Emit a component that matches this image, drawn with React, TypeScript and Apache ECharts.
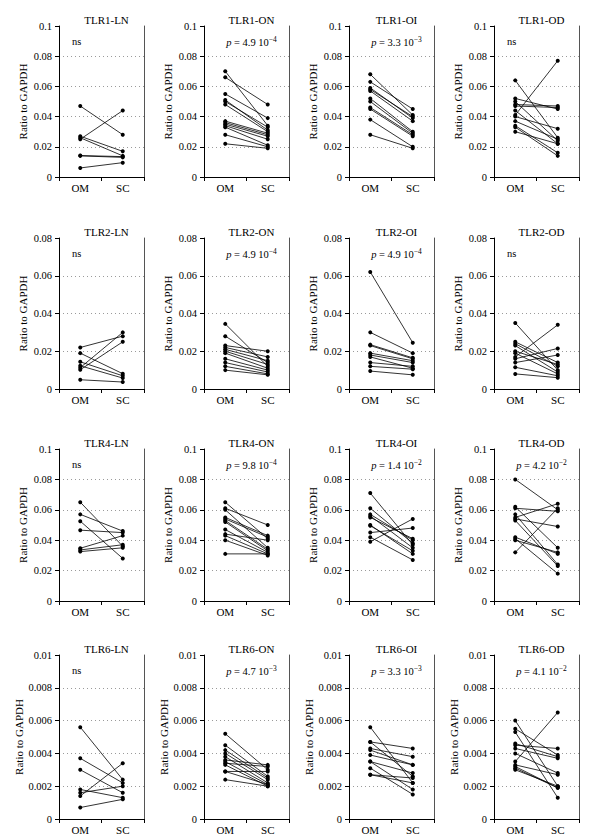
import React, { useEffect, useRef } from "react";
import * as echarts from "echarts";

const categories = ["OM", "SC"];

// Row 1 – TLR1
const tlr1LnOM = [0.047, 0.025, 0.027, 0.026, 0.014, 0.0142, 0.006];
const tlr1LnSC = [0.028, 0.044, 0.017, 0.014, 0.013, 0.0135, 0.0095];
const tlr1OnOM = [0.070, 0.066, 0.055, 0.051, 0.050, 0.048, 0.037, 0.036, 0.035, 0.034, 0.033, 0.028, 0.022];
const tlr1OnSC = [0.034, 0.048, 0.039, 0.031, 0.033, 0.030, 0.029, 0.028, 0.027, 0.025, 0.021, 0.020, 0.019];
const tlr1OiOM = [0.068, 0.063, 0.059, 0.058, 0.057, 0.052, 0.050, 0.046, 0.045, 0.038, 0.028];
const tlr1OiSC = [0.041, 0.045, 0.039, 0.040, 0.037, 0.030, 0.029, 0.028, 0.027, 0.020, 0.019];
const tlr1OdOM = [0.064, 0.052, 0.050, 0.048, 0.047, 0.044, 0.041, 0.040, 0.037, 0.034, 0.033, 0.030];
const tlr1OdSC = [0.026, 0.045, 0.024, 0.047, 0.046, 0.022, 0.077, 0.032, 0.025, 0.016, 0.014, 0.022];

// Row 2 – TLR2
const tlr2LnOM = [0.022, 0.019, 0.0144, 0.0123, 0.0113, 0.0102, 0.0049];
const tlr2LnSC = [0.028, 0.0081, 0.007, 0.0058, 0.030, 0.025, 0.0037];
const tlr2OnOM = [0.0345, 0.028, 0.023, 0.022, 0.021, 0.020, 0.019, 0.016, 0.014, 0.012, 0.010];
const tlr2OnSC = [0.012, 0.014, 0.020, 0.017, 0.015, 0.013, 0.011, 0.010, 0.009, 0.008, 0.0075];
const tlr2OiOM = [0.062, 0.030, 0.0235, 0.023, 0.019, 0.018, 0.017, 0.014, 0.012, 0.0095];
const tlr2OiSC = [0.0245, 0.019, 0.0165, 0.016, 0.015, 0.014, 0.011, 0.012, 0.0105, 0.0075];
const tlr2OdOM = [0.035, 0.025, 0.024, 0.023, 0.020, 0.019, 0.017, 0.016, 0.014, 0.0115, 0.008];
const tlr2OdSC = [0.010, 0.014, 0.012, 0.009, 0.013, 0.008, 0.034, 0.0215, 0.018, 0.007, 0.006];

// Row 3 – TLR4
const tlr4LnOM = [0.065, 0.057, 0.0525, 0.0466, 0.0347, 0.0336, 0.0325];
const tlr4LnSC = [0.036, 0.046, 0.028, 0.045, 0.043, 0.037, 0.035];
const tlr4OnOM = [0.065, 0.061, 0.060, 0.055, 0.054, 0.053, 0.052, 0.047, 0.044, 0.043, 0.040, 0.031];
const tlr4OnSC = [0.041, 0.050, 0.035, 0.043, 0.042, 0.034, 0.033, 0.032, 0.040, 0.031, 0.030, 0.031];
const tlr4OiOM = [0.071, 0.061, 0.057, 0.056, 0.055, 0.050, 0.0495, 0.045, 0.042, 0.039];
const tlr4OiSC = [0.037, 0.038, 0.040, 0.035, 0.041, 0.031, 0.033, 0.048, 0.027, 0.054];
const tlr4OdOM = [0.080, 0.062, 0.061, 0.057, 0.054, 0.053, 0.042, 0.041, 0.040, 0.032, 0.055];
const tlr4OdSC = [0.060, 0.035, 0.059, 0.024, 0.049, 0.023, 0.031, 0.018, 0.032, 0.061, 0.064];

// Row 4 – TLR6
const tlr6LnOM = [0.0056, 0.0037, 0.0030, 0.0018, 0.0016, 0.0014, 0.0007];
const tlr6LnSC = [0.0024, 0.0022, 0.0016, 0.0013, 0.0020, 0.0034, 0.0012];
const tlr6OnOM = [0.0052, 0.0045, 0.0042, 0.0040, 0.0038, 0.0036, 0.0035, 0.0034, 0.0033, 0.0029, 0.0029, 0.0024];
const tlr6OnSC = [0.0030, 0.0026, 0.0025, 0.0024, 0.0022, 0.0033, 0.0021, 0.0032, 0.0020, 0.0029, 0.0021, 0.0020];
const tlr6OiOM = [0.0056, 0.0047, 0.0047, 0.0043, 0.0042, 0.0039, 0.0035, 0.0035, 0.0031, 0.0027, 0.0027];
const tlr6OiSC = [0.0022, 0.0043, 0.0026, 0.0038, 0.0033, 0.0033, 0.0028, 0.0018, 0.0015, 0.0025, 0.0022];
const tlr6OdOM = [0.0060, 0.0055, 0.0053, 0.0046, 0.0045, 0.0043, 0.0040, 0.0035, 0.0033, 0.0032, 0.0031, 0.0030];
const tlr6OdSC = [0.0020, 0.0039, 0.0013, 0.0038, 0.0043, 0.0037, 0.0028, 0.0065, 0.0027, 0.0019, 0.0019, 0.0020];

const panelTitles = [
  "TLR1-LN", "TLR1-ON", "TLR1-OI", "TLR1-OD",
  "TLR2-LN", "TLR2-ON", "TLR2-OI", "TLR2-OD",
  "TLR4-LN", "TLR4-ON", "TLR4-OI", "TLR4-OD",
  "TLR6-LN", "TLR6-ON", "TLR6-OI", "TLR6-OD",
];
const omValues = [
  tlr1LnOM, tlr1OnOM, tlr1OiOM, tlr1OdOM,
  tlr2LnOM, tlr2OnOM, tlr2OiOM, tlr2OdOM,
  tlr4LnOM, tlr4OnOM, tlr4OiOM, tlr4OdOM,
  tlr6LnOM, tlr6OnOM, tlr6OiOM, tlr6OdOM,
];
const scValues = [
  tlr1LnSC, tlr1OnSC, tlr1OiSC, tlr1OdSC,
  tlr2LnSC, tlr2OnSC, tlr2OiSC, tlr2OdSC,
  tlr4LnSC, tlr4OnSC, tlr4OiSC, tlr4OdSC,
  tlr6LnSC, tlr6OnSC, tlr6OiSC, tlr6OdSC,
];
// p-value mantissa / exponent ("" = ns)
const pMantissa = ["", "4.9", "3.3", "", "", "4.9", "4.9", "", "", "9.8", "1.4", "4.2", "", "4.7", "3.3", "4.1"];
const pExponent = ["", "−4", "−3", "", "", "−4", "−4", "", "", "−4", "−2", "−2", "", "−3", "−3", "−2"];

const rowMax = [0.1, 0.08, 0.1, 0.01];
const rowInterval = [0.02, 0.02, 0.02, 0.002];

const FONT = "'Liberation Serif', 'Times New Roman', serif";

export default function App() {
  const ref = useRef<HTMLDivElement>(null);
  useEffect(() => {
    if (!ref.current) return;
    const chart = echarts.init(ref.current, null, { renderer: "svg" });
    const lefts = [59, 204, 349, 494];
    const tops = [26, 238, 449, 655];
    const heights = [151, 151, 152, 164];
    const W = 85;

    const grids: any[] = [];
    const xAxes: any[] = [];
    const yAxes: any[] = [];
    const rightAxes: any[] = [];
    const titles: any[] = [];
    const series: any[] = [];

    for (let i = 0; i < 16; i++) {
      const r = Math.floor(i / 4);
      const c = i % 4;
      const left = lefts[c];
      const top = tops[r];
      const h = heights[r];
      const max = rowMax[r];
      const nTicks = Math.round(max / rowInterval[r]) + 1;
      const splitColors: string[] = [];
      for (let k = 0; k < nTicks; k++) splitColors.push(k === 0 || k === nTicks - 1 ? "rgba(0,0,0,0)" : "#9a9a9a");

      grids.push({ left, top, width: W, height: h, containLabel: false });
      xAxes.push({
        type: "category",
        gridIndex: i,
        data: categories,
        boundaryGap: true,
        axisLine: { lineStyle: { color: "#000", width: 1 } },
        axisTick: { show: true, length: 4, lineStyle: { color: "#000" } },
        axisLabel: { fontFamily: FONT, fontSize: 11, color: "#000", margin: 5 },
      });
      yAxes.push({
        type: "value",
        gridIndex: i,
        min: 0,
        max,
        interval: rowInterval[r],
        name: "Ratio to GAPDH",
        nameLocation: "middle",
        nameGap: 31,
        nameTextStyle: { fontFamily: FONT, fontSize: 11, color: "#000" },
        axisLine: { show: true, lineStyle: { color: "#000", width: 1 } },
        axisTick: { show: true, length: 4, lineStyle: { color: "#000" } },
        axisLabel: { fontFamily: FONT, fontSize: 10.5, color: "#000", margin: 7 },
        splitLine: { show: true, lineStyle: { color: splitColors, type: [1, 3], width: 1 } },
      });
      rightAxes.push({
        type: "value",
        gridIndex: i,
        position: "right",
        min: 0,
        max,
        axisLine: { show: true, onZero: false, lineStyle: { color: "#555", width: 1 } },
        axisTick: { show: false },
        axisLabel: { show: false },
        splitLine: { show: false },
      });
      titles.push({
        text: panelTitles[i],
        left: left + W / 2,
        top: top - 17,
        textAlign: "center",
        textStyle: { fontFamily: FONT, fontSize: 11, fontWeight: "normal", color: "#000" },
      });
      if (pMantissa[i] === "") {
        titles.push({
          text: "ns",
          left: left + 8,
          top: top + 5,
          textStyle: { fontFamily: FONT, fontSize: 10.5, fontWeight: "normal", color: "#000" },
        });
      } else {
        titles.push({
          text: `{i|p} = ${pMantissa[i]} 10{s|${pExponent[i]}}`,
          left: left + W / 2,
          top: top + 4,
          textAlign: "center",
          textStyle: {
            fontFamily: FONT,
            fontSize: 10.5,
            fontWeight: "normal",
            color: "#000",
            rich: {
              i: { fontFamily: FONT, fontSize: 10.5, fontStyle: "italic", color: "#000" },
              s: { fontFamily: FONT, fontSize: 7.5, color: "#000", padding: [0, 0, 6, 0] },
            },
          },
        });
      }

      const om = omValues[i];
      const sc = scValues[i];
      for (let k = 0; k < om.length; k++) {
        series.push({
          type: "line",
          xAxisIndex: i,
          yAxisIndex: i,
          data: [om[k], sc[k]],
          symbol: "circle",
          symbolSize: 4,
          showSymbol: true,
          lineStyle: { color: "#000", width: 0.8 },
          itemStyle: { color: "#000" },
          silent: true,
        });
      }
    }

    chart.setOption({
      animation: false,
      backgroundColor: "#fff",
      title: titles,
      grid: grids,
      xAxis: xAxes,
      yAxis: [...yAxes, ...rightAxes],
      series,
    });
    return () => chart.dispose();
  }, []);
  return (
    <div
      ref={ref}
      style={{ position: "absolute", left: 0, top: 0, width: 609, height: 839 }}
    />
  );
}
